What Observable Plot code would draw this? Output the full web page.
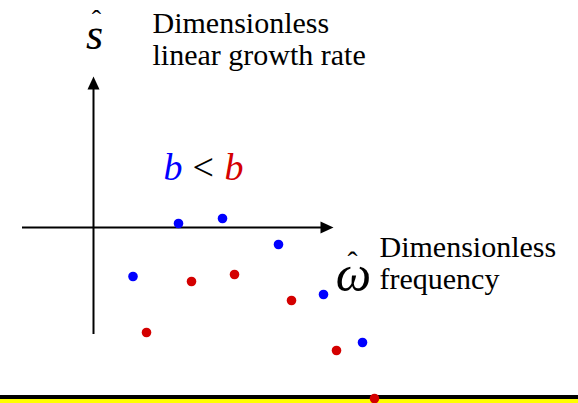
<!DOCTYPE html>
<html><head><meta charset="utf-8">
<script src="https://cdn.jsdelivr.net/npm/d3@7"></script>
<script src="https://cdn.jsdelivr.net/npm/@observablehq/plot@0.6"></script>
<style>
body{margin:0;background:#fff;} svg{display:block;}
</style>
</head><body><div id="chart"></div>
<script>
// Dimensionless frequency (omega-hat) and growth rate (s-hat) of the two cases
const blueOmega = [1.70, 2.58, 3.70, 0.79, 4.60, 5.38];
const blueS     = [0.08, 0.18, -0.34, -0.98, -1.34, -2.30];
const redOmega  = [1.96, 2.82, 3.96, 1.06, 4.86, 5.62];
const redS      = [-1.08, -0.94, -1.46, -2.10, -2.46, -3.42];

const BLUE = "#0000ff", RED = "#d40000";
const serif = "Liberation Serif";

const blue = blueOmega.map((w, i) => ({w, s: blueS[i]}));
const red = redOmega.map((w, i) => ({w, s: redS[i]}));

// filled arrowhead symbol (tip pointing up, base centred on the anchor)
const head = {draw(ctx) { ctx.moveTo(0, -13); ctx.lineTo(6, 0); ctx.lineTo(-6, 0); ctx.closePath(); }};

const txt = (str, o) => Plot.text([str], {text: d => d, lineAnchor: "bottom", fontFamily: serif, fill: "black", ...o});

const chart = Plot.plot({
  width: 578, height: 403, margin: 0,
  style: {background: "#fff", fontFamily: serif},
  x: {domain: [-1.86, 9.7], axis: null},
  y: {domain: [-3.52, 4.54], axis: null},
  marks: [
    // bottom bars
    Plot.ruleY([-3.475], {stroke: "#ffff00", strokeWidth: 4.5}),
    Plot.ruleY([-3.39], {stroke: "black", strokeWidth: 4}),
    // axes
    Plot.ruleY([0], {x1: -1.42, x2: 4.6, stroke: "black", strokeWidth: 2}),
    Plot.ruleX([0], {y1: -2.14, y2: 2.8, stroke: "black", strokeWidth: 2}),
    Plot.dot([0], {x: 4.54, y: 0, symbol: head, r: 6, fill: "black", stroke: "none", rotate: 90}),
    Plot.dot([0], {x: 0, y: 2.76, symbol: head, r: 6, fill: "black", stroke: "none"}),
    // data
    Plot.dot(blue, {x: "w", y: "s", r: 4.8, fill: BLUE, stroke: "none"}),
    Plot.dot(red, {x: "w", y: "s", r: 4.8, fill: RED, stroke: "none"}),
    // labels
    txt("s", {x: 0.02, y: 3.58, fontSize: 44, fontStyle: "italic", textAnchor: "middle"}),
    txt("\u02C6", {x: 0.06, y: 3.98, fontSize: 28, textAnchor: "middle"}),
    txt("Dimensionless", {x: 1.18, y: 3.90, fontSize: 30, textAnchor: "start"}),
    txt("linear growth rate", {x: 1.18, y: 3.25, fontSize: 30, textAnchor: "start"}),
    txt("b", {x: 1.40, y: 0.96, fontSize: 38, fontStyle: "italic", fill: BLUE, textAnchor: "start"}),
    txt("<", {x: 1.98, y: 0.96, fontSize: 38, textAnchor: "start"}),
    txt("b", {x: 2.62, y: 0.96, fontSize: 38, fontStyle: "italic", fill: RED, textAnchor: "start"}),
    txt("\u03C9", {x: 5.20, y: -1.26, fontSize: 50, fontStyle: "italic", textAnchor: "middle"}),
    txt("\u02C6", {x: 5.18, y: -0.88, fontSize: 30, textAnchor: "middle"}),
    txt("Dimensionless", {x: 5.72, y: -0.58, fontSize: 30, textAnchor: "start"}),
    txt("frequency", {x: 5.72, y: -1.22, fontSize: 30, textAnchor: "start"})
  ]
});
document.getElementById("chart").appendChild(chart);
</script>
</body></html>
